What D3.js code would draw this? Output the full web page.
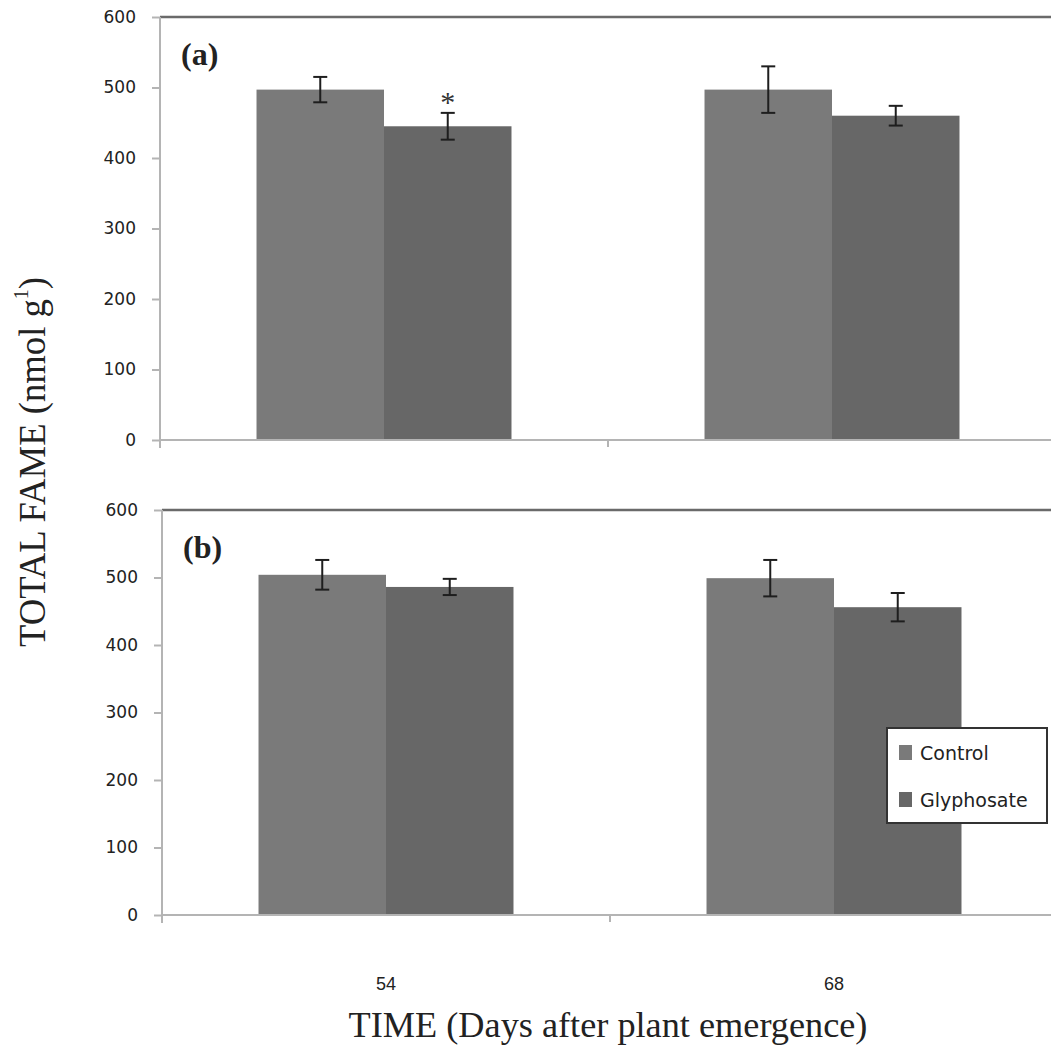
<!DOCTYPE html>
<html lang="en">
<head>
  <meta charset="UTF-8">
  <title>Total FAME</title>
  <script src="https://cdnjs.cloudflare.com/ajax/libs/d3/7.8.5/d3.min.js"></script>
  <style>
    body { margin: 0; background: #fff; }
    svg { display: block; }
  </style>
</head>
<body>
<svg id="chart" width="1051" height="1047"></svg>
<script>
// data
const days = ["54", "68"];
const series = ["Control", "Glyphosate"];
const colors = ["#7a7a7a", "#676767"];
const yTicks = [0, 100, 200, 300, 400, 500, 600];

const controlA = [497, 497], controlErrA = [18, 33];
const glyphA = [445, 460], glyphErrA = [19, 14];
const controlB = [504, 499], controlErrB = [22, 27];
const glyphB = [486, 456], glyphErrB = [12, 21];
const starsA = [{ day: "54", s: "Glyphosate" }];

const panels = [
  { label: "(a)", left: 160, top: 17, bottom: 440,
    values: [controlA, glyphA], errs: [controlErrA, glyphErrA], stars: starsA },
  { label: "(b)", left: 162, top: 510, bottom: 915,
    values: [controlB, glyphB], errs: [controlErrB, glyphErrB], stars: [] }
];

const svg = d3.select("#chart");
const serif = "Liberation Serif, Times New Roman, serif";

panels.forEach((p, pi) => {
  const g = svg.append("g");
  const y = d3.scaleLinear().domain([0, 600]).range([p.bottom, p.top]);
  const x = d3.scaleBand().domain(days).range([p.left, p.left + 896]).padding(0);
  const xs = d3.scaleBand().domain(series).range([0, x.bandwidth()])
    .paddingInner(0).paddingOuter(0.757);

  // top frame line
  g.append("line")
    .attr("x1", p.left).attr("x2", 1051)
    .attr("y1", y(600)).attr("y2", y(600))
    .attr("stroke", "#6a6a6a").attr("stroke-width", 2.5);

  // bars
  const rows = [];
  days.forEach((d, i) => series.forEach((s, j) => {
    rows.push({ day: d, s, j, v: p.values[j][i], e: p.errs[j][i] });
  }));

  g.selectAll("rect.bar").data(rows).join("rect")
    .attr("class", "bar")
    .attr("x", d => x(d.day) + xs(d.s))
    .attr("width", xs.bandwidth())
    .attr("y", d => y(d.v))
    .attr("height", d => y(0) - y(d.v))
    .attr("fill", d => colors[d.j]);

  // y axis
  const yAxis = g.append("g")
    .attr("transform", `translate(${p.left},0)`)
    .call(d3.axisLeft(y).tickValues(yTicks).tickSize(8).tickPadding(16));
  yAxis.select(".domain").attr("stroke", "#b4b4b4").attr("stroke-width", 2)
    .attr("d", `M0,${y(600)}V${y(0) + 8}`);
  yAxis.selectAll(".tick line").attr("stroke", "#b4b4b4").attr("stroke-width", 2);
  yAxis.selectAll(".tick text")
    .attr("font-family", "DejaVu Sans, Verdana, sans-serif")
    .attr("font-size", 17).attr("fill", "#222");

  // x axis
  const xAxis = g.append("g")
    .attr("transform", `translate(0,${y(0)})`)
    .call(d3.axisBottom(x).tickValues([]).tickSizeOuter(0));
  xAxis.select(".domain").attr("stroke", "#b4b4b4").attr("stroke-width", 2)
    .attr("d", `M${p.left},0H1051`);
  g.selectAll("line.ctick").data(days.slice(1)).join("line")
    .attr("class", "ctick")
    .attr("x1", d => x(d)).attr("x2", d => x(d))
    .attr("y1", y(0)).attr("y2", y(0) + 7)
    .attr("stroke", "#b4b4b4").attr("stroke-width", 2);

  // error bars
  const eb = g.selectAll("g.err").data(rows).join("g").attr("class", "err")
    .attr("stroke", "#1e1e1e").attr("stroke-width", 2);
  const cx = d => x(d.day) + xs(d.s) + xs.bandwidth() / 2;
  eb.append("line").attr("x1", cx).attr("x2", cx)
    .attr("y1", d => y(d.v + d.e)).attr("y2", d => y(d.v - d.e));
  eb.append("line").attr("x1", d => cx(d) - 7).attr("x2", d => cx(d) + 7)
    .attr("y1", d => y(d.v + d.e)).attr("y2", d => y(d.v + d.e));
  eb.append("line").attr("x1", d => cx(d) - 7).attr("x2", d => cx(d) + 7)
    .attr("y1", d => y(d.v - d.e)).attr("y2", d => y(d.v - d.e));

  // significance stars
  g.selectAll("text.star").data(p.stars).join("text")
    .attr("class", "star")
    .attr("x", cx)
    .attr("y", d => {
      const j = series.indexOf(d.s), i = days.indexOf(d.day);
      return y(p.values[j][i] + p.errs[j][i]) - 1;
    })
    .attr("text-anchor", "middle")
    .attr("font-family", serif)
    .attr("font-size", 30).attr("fill", "#333")
    .text("*");

  // panel label
  g.append("text")
    .attr("x", p.left + 21).attr("y", y(600) + 48)
    .attr("font-family", serif)
    .attr("font-weight", "bold").attr("font-size", 32).attr("fill", "#222")
    .text(p.label);

  // category labels under the bottom panel
  if (pi === panels.length - 1) {
    g.selectAll("text.cat").data(days).join("text")
      .attr("class", "cat")
      .attr("x", d => x(d) + x.bandwidth() / 2)
      .attr("y", y(0) + 75)
      .attr("text-anchor", "middle")
      .attr("font-family", "Liberation Sans, Arial, sans-serif")
      .attr("font-size", 18).attr("fill", "#222")
      .text(d => d);
  }
});

// legend
const lg = svg.append("g").attr("transform", "translate(887,728)");
lg.append("rect").attr("width", 160).attr("height", 95)
  .attr("fill", "#fff").attr("stroke", "#333").attr("stroke-width", 2);
series.forEach((s, j) => {
  const row = lg.append("g").attr("transform", `translate(12,${24 + j * 47})`);
  row.append("rect").attr("x", 0).attr("y", -7).attr("width", 13).attr("height", 15)
    .attr("fill", colors[j]);
  row.append("text").attr("x", 21).attr("y", 8)
    .attr("font-family", "DejaVu Sans, Verdana, sans-serif")
    .attr("font-size", 19).attr("fill", "#222")
    .text(s);
});

// axis titles (condensed serif, squeezed to the measured width)
const yt = svg.append("text")
  .attr("text-anchor", "middle")
  .attr("font-family", serif)
  .attr("font-size", 37).attr("fill", "#222");
yt.append("tspan").text("TOTAL  FAME (nmol g");
yt.append("tspan").attr("dy", -17).attr("font-size", 20).text("1");
yt.append("tspan").attr("dy", 17).text(")");
const ytLen = yt.node().getComputedTextLength();
yt.attr("transform", `translate(45,462) rotate(-90) scale(${370 / ytLen},1)`);

const xt = svg.append("text")
  .attr("text-anchor", "middle")
  .attr("font-family", serif)
  .attr("font-size", 36).attr("fill", "#222")
  .text("TIME (Days after plant emergence)");
const xtLen = xt.node().getComputedTextLength();
xt.attr("transform", `translate(608,1037) scale(${519 / xtLen},1)`);
</script>
</body>
</html>
